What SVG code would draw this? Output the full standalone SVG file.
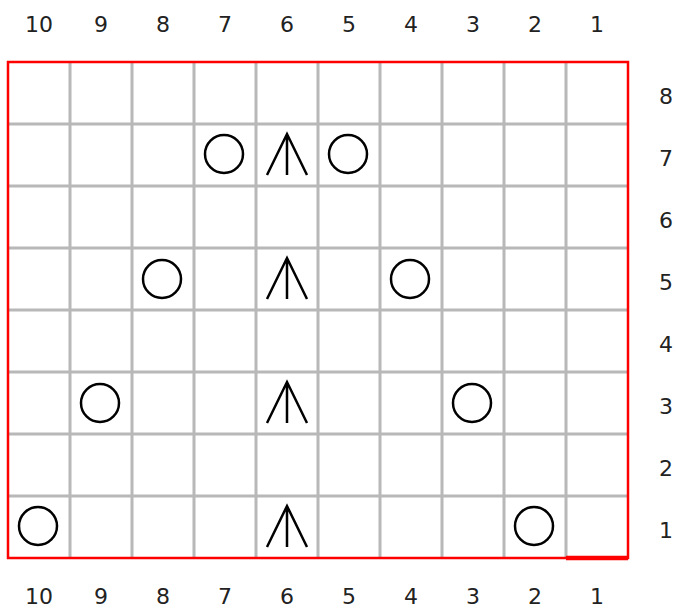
<svg xmlns="http://www.w3.org/2000/svg" width="676" height="614" viewBox="0 0 676 614">
<style>
.g{stroke:#b8b8b8;stroke-width:3;fill:none}
.b{stroke:#ff0000;stroke-width:2.5;fill:none}
.c{stroke:#000;stroke-width:2.5;fill:none}
.a{stroke:#000;stroke-width:2.5;fill:none;stroke-linejoin:miter}
text{font-family:"DejaVu Sans",sans-serif;font-size:22px;fill:#222;text-anchor:middle}
</style>
<defs>
<path id="arr" d="M-20,20 L0,-21 L20,20 M0,-21 V20"/>
</defs>
<rect width="676" height="614" fill="#fff"/>
<g id="grid">
<path class="g" d="M70,62V558M132,62V558M194,62V558M256,62V558M318,62V558M380,62V558M442,62V558M504,62V558M566,62V558M8,124H628M8,186H628M8,248H628M8,310H628M8,372H628M8,434H628M8,496H628"/>
<rect class="b" x="8" y="62" width="620" height="496"/>
<path d="M566,558H628" stroke="#ff0000" stroke-width="4.5"/>
</g>
<g id="top-labels">
<text x="39" y="32">10</text><text x="101" y="32">9</text><text x="163" y="32">8</text><text x="225" y="32">7</text><text x="287" y="32">6</text><text x="349" y="32">5</text><text x="411" y="32">4</text><text x="473" y="32">3</text><text x="535" y="32">2</text><text x="597" y="32">1</text>
</g>
<g id="bottom-labels">
<text x="39" y="604">10</text><text x="101" y="604">9</text><text x="163" y="604">8</text><text x="225" y="604">7</text><text x="287" y="604">6</text><text x="349" y="604">5</text><text x="411" y="604">4</text><text x="473" y="604">3</text><text x="535" y="604">2</text><text x="597" y="604">1</text>
</g>
<g id="right-labels">
<text x="666" y="104">8</text><text x="666" y="166">7</text><text x="666" y="228">6</text><text x="666" y="290">5</text><text x="666" y="352">4</text><text x="666" y="414">3</text><text x="666" y="476">2</text><text x="666" y="538">1</text>
</g>
<g id="yarn-overs">
<circle class="c" cx="224" cy="154" r="19"/><circle class="c" cx="348" cy="154" r="19"/>
<circle class="c" cx="162" cy="279" r="19"/><circle class="c" cx="410" cy="279" r="19"/>
<circle class="c" cx="100" cy="403" r="19"/><circle class="c" cx="472" cy="403" r="19"/>
<circle class="c" cx="38" cy="526" r="19"/><circle class="c" cx="534" cy="526" r="19"/>
</g>
<g id="decreases">
<use href="#arr" class="a" transform="translate(287,155)"/>
<use href="#arr" class="a" transform="translate(287,279)"/>
<use href="#arr" class="a" transform="translate(287,403)"/>
<use href="#arr" class="a" transform="translate(287,527)"/>
</g>
</svg>
